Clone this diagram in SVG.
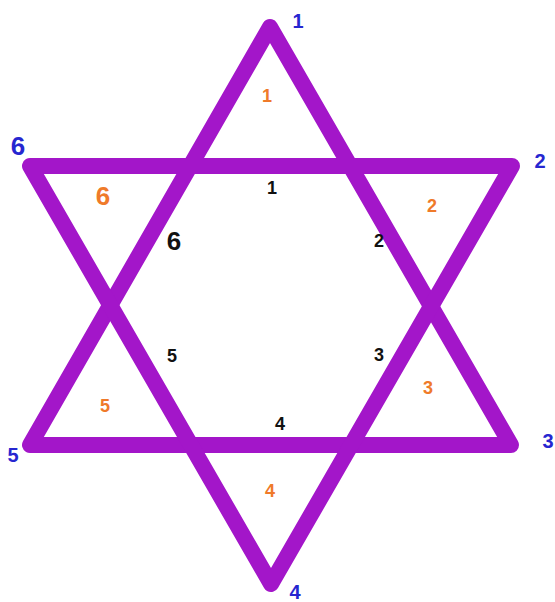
<svg xmlns="http://www.w3.org/2000/svg" width="555" height="602" viewBox="0 0 555 602">
<style>
.tri{fill:none;stroke:#a316c9;stroke-width:16;stroke-linejoin:round}
text{font-family:"Liberation Sans",Arial,sans-serif;font-weight:bold;text-anchor:middle}
.b{fill:#2626d0;font-size:20px}
.o{fill:#ef7a2a;font-size:18px}
.k{fill:#111;font-size:18px}
.big{font-size:26px}
</style>
<rect width="555" height="602" fill="#fff"/>
<g id="connectors">
<polygon class="tri" points="270,27 30,445 511,445"/>
<polygon class="tri" points="30,166 512,166 271,584"/>
</g>
<g id="vertex-labels">
<text class="b" x="298" y="28">1</text>
<text class="b" x="540" y="168">2</text>
<text class="b" x="548" y="448">3</text>
<text class="b" x="295" y="599">4</text>
<text class="b" x="13" y="462">5</text>
<text class="b big" x="18" y="155">6</text>
</g>
<g id="triangle-labels">
<text class="o" x="267" y="102">1</text>
<text class="o" x="432" y="212">2</text>
<text class="o" x="428" y="394">3</text>
<text class="o" x="270" y="497">4</text>
<text class="o" x="105" y="412">5</text>
<text class="o big" x="103" y="205">6</text>
</g>
<g id="hexagon-labels">
<text class="k" x="272" y="194">1</text>
<text class="k" x="379" y="247">2</text>
<text class="k" x="379" y="361">3</text>
<text class="k" x="280" y="430">4</text>
<text class="k" x="172" y="362">5</text>
<text class="k big" x="174" y="250">6</text>
</g>
</svg>
